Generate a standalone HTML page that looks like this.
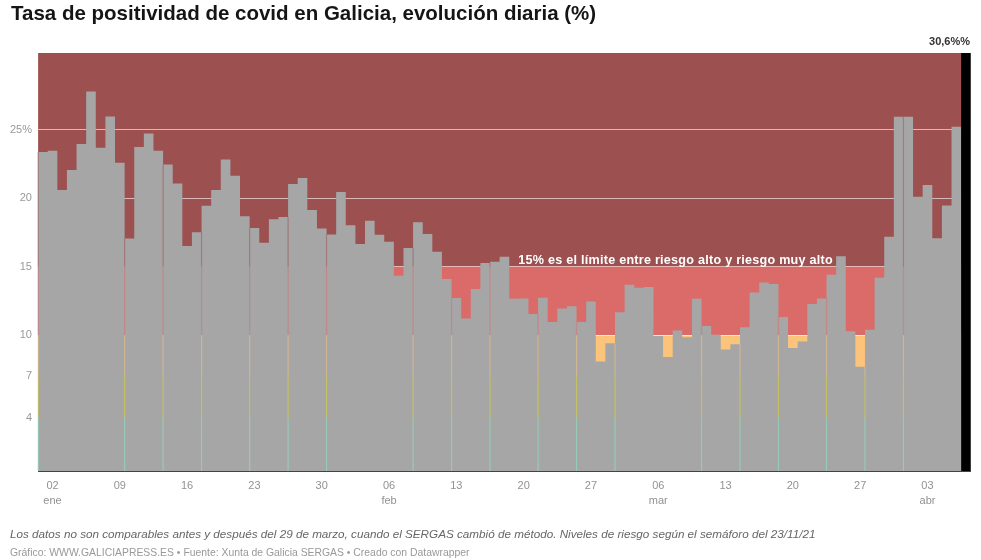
<!DOCTYPE html>
<html><head><meta charset="utf-8">
<style>
html,body{margin:0;padding:0;background:#fff;width:981px;height:560px;overflow:hidden;}
body{position:relative;font-family:"Liberation Sans",sans-serif;}
.wrap{position:absolute;left:0;top:0;width:981px;height:560px;background:#fff;filter:blur(0.55px);}
.title{position:absolute;left:11px;top:0.6px;font-size:20.5px;font-weight:bold;color:#151515;white-space:nowrap;line-height:24px;}
svg{position:absolute;left:0;top:0;}
.yl{font-size:11px;fill:#999;font-family:"Liberation Sans",sans-serif;}
.xl{font-size:11px;fill:#929292;font-family:"Liberation Sans",sans-serif;}
.ann{font-size:12.6px;letter-spacing:0.25px;font-weight:bold;fill:#fff;font-family:"Liberation Sans",sans-serif;}
.lab{font-size:11px;font-weight:bold;fill:#333;font-family:"Liberation Sans",sans-serif;}
.f1{position:absolute;left:10px;top:528px;font-size:11.7px;font-style:italic;color:#666;white-space:nowrap;line-height:12px;}
.f2{position:absolute;left:10px;top:547px;font-size:10.4px;color:#999;white-space:nowrap;line-height:12px;}
</style></head><body>
<div class="wrap">
<div class="title">Tasa de positividad de covid en Galicia, evolución diaria (%)</div>
<svg width="981" height="560" viewBox="0 0 981 560">
<rect x="38.1" y="53.00" width="927.65" height="213.55" fill="#9d5050"/>
<rect x="38.1" y="266.55" width="927.65" height="68.55" fill="#da6b69"/>
<rect x="38.1" y="335.10" width="927.65" height="41.13" fill="#fcc47a"/>
<rect x="38.1" y="376.23" width="927.65" height="41.13" fill="#e4da20"/>
<rect x="38.1" y="417.36" width="927.65" height="53.64" fill="#8aefc8"/>
<rect x="38.1" y="129" width="927.65" height="1" fill="#fff" opacity="0.6"/>
<rect x="38.1" y="198" width="927.65" height="1" fill="#fff" opacity="0.6"/>
<rect x="38.1" y="266" width="927.65" height="1" fill="#fff" opacity="0.42"/>
<rect x="38.1" y="335" width="927.65" height="1" fill="#fff" opacity="0.6"/>
<path d="M38.10,472 L38.10,152.00 L47.72,152.00 L47.72,150.80 L57.33,150.80 L57.33,190.00 L66.94,190.00 L66.94,170.00 L76.56,170.00 L76.56,144.10 L86.17,144.10 L86.18,91.50 L95.79,91.50 L95.79,147.80 L105.40,147.80 L105.41,116.50 L115.02,116.50 L115.02,162.70 L124.64,162.70 L124.63,238.50 L134.25,238.50 L134.25,147.10 L143.87,147.10 L143.87,133.40 L153.48,133.40 L153.48,150.80 L163.09,150.80 L163.09,164.40 L172.71,164.40 L172.71,183.60 L182.33,183.60 L182.32,245.90 L191.94,245.90 L191.94,232.20 L201.56,232.20 L201.56,205.80 L211.17,205.80 L211.17,190.00 L220.78,190.00 L220.78,159.50 L230.40,159.50 L230.40,175.80 L240.02,175.80 L240.01,216.30 L249.63,216.30 L249.63,228.10 L259.25,228.10 L259.25,242.70 L268.86,242.70 L268.86,219.30 L278.48,219.30 L278.48,216.90 L288.09,216.90 L288.09,184.00 L297.71,184.00 L297.71,178.00 L307.32,178.00 L307.32,209.90 L316.94,209.90 L316.94,228.50 L326.55,228.50 L326.55,234.40 L336.17,234.40 L336.17,191.90 L345.78,191.90 L345.78,225.30 L355.40,225.30 L355.40,243.90 L365.01,243.90 L365.01,220.80 L374.63,220.80 L374.63,234.70 L384.24,234.70 L384.24,241.70 L393.86,241.70 L393.86,275.80 L403.47,275.80 L403.47,248.10 L413.09,248.10 L413.09,222.20 L422.70,222.20 L422.70,234.00 L432.32,234.00 L432.32,251.70 L441.93,251.70 L441.93,279.00 L451.55,279.00 L451.55,297.90 L461.16,297.90 L461.16,318.50 L470.78,318.50 L470.78,289.10 L480.39,289.10 L480.39,262.90 L490.01,262.90 L490.01,261.70 L499.62,261.70 L499.62,256.80 L509.24,256.80 L509.24,298.70 L518.85,298.70 L518.85,298.40 L528.47,298.40 L528.47,313.90 L538.08,313.90 L538.08,297.80 L547.70,297.80 L547.70,322.10 L557.31,322.10 L557.31,308.40 L566.93,308.40 L566.93,306.30 L576.54,306.30 L576.54,322.10 L586.16,322.10 L586.16,301.40 L595.77,301.40 L595.77,361.60 L605.38,361.60 L605.38,343.30 L615.00,343.30 L615.00,312.30 L624.62,312.30 L624.62,284.70 L634.23,284.70 L634.23,287.70 L643.85,287.70 L643.85,287.10 L653.46,287.10 L653.46,336.00 L663.08,336.00 L663.08,357.00 L672.69,357.00 L672.69,330.60 L682.31,330.60 L682.31,337.30 L691.92,337.30 L691.92,298.70 L701.54,298.70 L701.54,326.00 L711.15,326.00 L711.15,334.80 L720.77,334.80 L720.76,349.40 L730.38,349.40 L730.38,344.30 L740.00,344.30 L740.00,327.20 L749.61,327.20 L749.61,292.60 L759.23,292.60 L759.23,282.60 L768.84,282.60 L768.84,284.10 L778.46,284.10 L778.46,316.90 L788.07,316.90 L788.07,347.90 L797.69,347.90 L797.69,341.50 L807.30,341.50 L807.30,303.90 L816.92,303.90 L816.92,298.40 L826.53,298.40 L826.53,274.80 L836.15,274.80 L836.15,256.30 L845.76,256.30 L845.76,331.20 L855.38,331.20 L855.38,366.80 L864.99,366.80 L864.99,329.70 L874.61,329.70 L874.61,277.80 L884.22,277.80 L884.22,236.80 L893.84,236.80 L893.84,116.70 L903.45,116.70 L903.45,116.70 L913.07,116.70 L913.07,196.70 L922.68,196.70 L922.68,185.10 L932.30,185.10 L932.30,238.30 L941.91,238.30 L941.91,205.50 L951.53,205.50 L951.53,126.70 L961.14,126.70 L961.14,472 Z" fill="#a6a6a6"/>
<rect x="37.50" y="152.00" width="1.2" height="114.55" fill="#9d5050" opacity="0.5"/>
<rect x="37.50" y="266.55" width="1.2" height="68.55" fill="#da6b69" opacity="0.5"/>
<rect x="37.50" y="335.10" width="1.2" height="41.13" fill="#fcc47a" opacity="0.5"/>
<rect x="37.50" y="376.23" width="1.2" height="41.13" fill="#e4da20" opacity="0.5"/>
<rect x="37.50" y="417.36" width="1.2" height="53.64" fill="#8aefc8" opacity="0.5"/>
<rect x="124.03" y="238.50" width="1.2" height="28.05" fill="#9d5050" opacity="0.5"/>
<rect x="124.03" y="266.55" width="1.2" height="68.55" fill="#da6b69" opacity="0.5"/>
<rect x="124.03" y="335.10" width="1.2" height="41.13" fill="#fcc47a" opacity="0.5"/>
<rect x="124.03" y="376.23" width="1.2" height="41.13" fill="#e4da20" opacity="0.5"/>
<rect x="124.03" y="417.36" width="1.2" height="53.64" fill="#8aefc8" opacity="0.5"/>
<rect x="162.50" y="164.40" width="1.2" height="102.15" fill="#9d5050" opacity="0.5"/>
<rect x="162.50" y="266.55" width="1.2" height="68.55" fill="#da6b69" opacity="0.5"/>
<rect x="162.50" y="335.10" width="1.2" height="41.13" fill="#fcc47a" opacity="0.5"/>
<rect x="162.50" y="376.23" width="1.2" height="41.13" fill="#e4da20" opacity="0.5"/>
<rect x="162.50" y="417.36" width="1.2" height="53.64" fill="#8aefc8" opacity="0.5"/>
<rect x="200.96" y="232.20" width="1.2" height="34.35" fill="#9d5050" opacity="0.5"/>
<rect x="200.96" y="266.55" width="1.2" height="68.55" fill="#da6b69" opacity="0.5"/>
<rect x="200.96" y="335.10" width="1.2" height="41.13" fill="#fcc47a" opacity="0.5"/>
<rect x="200.96" y="376.23" width="1.2" height="41.13" fill="#e4da20" opacity="0.5"/>
<rect x="200.96" y="417.36" width="1.2" height="53.64" fill="#8aefc8" opacity="0.5"/>
<rect x="249.03" y="228.10" width="1.2" height="38.45" fill="#9d5050" opacity="0.5"/>
<rect x="249.03" y="266.55" width="1.2" height="68.55" fill="#da6b69" opacity="0.5"/>
<rect x="249.03" y="335.10" width="1.2" height="41.13" fill="#fcc47a" opacity="0.5"/>
<rect x="249.03" y="376.23" width="1.2" height="41.13" fill="#e4da20" opacity="0.5"/>
<rect x="249.03" y="417.36" width="1.2" height="53.64" fill="#8aefc8" opacity="0.5"/>
<rect x="287.49" y="216.90" width="1.2" height="49.65" fill="#9d5050" opacity="0.5"/>
<rect x="287.49" y="266.55" width="1.2" height="68.55" fill="#da6b69" opacity="0.5"/>
<rect x="287.49" y="335.10" width="1.2" height="41.13" fill="#fcc47a" opacity="0.5"/>
<rect x="287.49" y="376.23" width="1.2" height="41.13" fill="#e4da20" opacity="0.5"/>
<rect x="287.49" y="417.36" width="1.2" height="53.64" fill="#8aefc8" opacity="0.5"/>
<rect x="325.95" y="234.40" width="1.2" height="32.15" fill="#9d5050" opacity="0.5"/>
<rect x="325.95" y="266.55" width="1.2" height="68.55" fill="#da6b69" opacity="0.5"/>
<rect x="325.95" y="335.10" width="1.2" height="41.13" fill="#fcc47a" opacity="0.5"/>
<rect x="325.95" y="376.23" width="1.2" height="41.13" fill="#e4da20" opacity="0.5"/>
<rect x="325.95" y="417.36" width="1.2" height="53.64" fill="#8aefc8" opacity="0.5"/>
<rect x="412.49" y="248.10" width="1.2" height="18.45" fill="#9d5050" opacity="0.5"/>
<rect x="412.49" y="266.55" width="1.2" height="68.55" fill="#da6b69" opacity="0.5"/>
<rect x="412.49" y="335.10" width="1.2" height="41.13" fill="#fcc47a" opacity="0.5"/>
<rect x="412.49" y="376.23" width="1.2" height="41.13" fill="#e4da20" opacity="0.5"/>
<rect x="412.49" y="417.36" width="1.2" height="53.64" fill="#8aefc8" opacity="0.5"/>
<rect x="450.94" y="297.90" width="1.2" height="37.20" fill="#da6b69" opacity="0.5"/>
<rect x="450.94" y="335.10" width="1.2" height="41.13" fill="#fcc47a" opacity="0.5"/>
<rect x="450.94" y="376.23" width="1.2" height="41.13" fill="#e4da20" opacity="0.5"/>
<rect x="450.94" y="417.36" width="1.2" height="53.64" fill="#8aefc8" opacity="0.5"/>
<rect x="489.41" y="262.90" width="1.2" height="3.65" fill="#9d5050" opacity="0.5"/>
<rect x="489.41" y="266.55" width="1.2" height="68.55" fill="#da6b69" opacity="0.5"/>
<rect x="489.41" y="335.10" width="1.2" height="41.13" fill="#fcc47a" opacity="0.5"/>
<rect x="489.41" y="376.23" width="1.2" height="41.13" fill="#e4da20" opacity="0.5"/>
<rect x="489.41" y="417.36" width="1.2" height="53.64" fill="#8aefc8" opacity="0.5"/>
<rect x="537.48" y="313.90" width="1.2" height="21.20" fill="#da6b69" opacity="0.5"/>
<rect x="537.48" y="335.10" width="1.2" height="41.13" fill="#fcc47a" opacity="0.5"/>
<rect x="537.48" y="376.23" width="1.2" height="41.13" fill="#e4da20" opacity="0.5"/>
<rect x="537.48" y="417.36" width="1.2" height="53.64" fill="#8aefc8" opacity="0.5"/>
<rect x="575.94" y="322.10" width="1.2" height="13.00" fill="#da6b69" opacity="0.5"/>
<rect x="575.94" y="335.10" width="1.2" height="41.13" fill="#fcc47a" opacity="0.5"/>
<rect x="575.94" y="376.23" width="1.2" height="41.13" fill="#e4da20" opacity="0.5"/>
<rect x="575.94" y="417.36" width="1.2" height="53.64" fill="#8aefc8" opacity="0.5"/>
<rect x="614.40" y="343.30" width="1.2" height="32.93" fill="#fcc47a" opacity="0.5"/>
<rect x="614.40" y="376.23" width="1.2" height="41.13" fill="#e4da20" opacity="0.5"/>
<rect x="614.40" y="417.36" width="1.2" height="53.64" fill="#8aefc8" opacity="0.5"/>
<rect x="700.94" y="326.00" width="1.2" height="9.10" fill="#da6b69" opacity="0.5"/>
<rect x="700.94" y="335.10" width="1.2" height="41.13" fill="#fcc47a" opacity="0.5"/>
<rect x="700.94" y="376.23" width="1.2" height="41.13" fill="#e4da20" opacity="0.5"/>
<rect x="700.94" y="417.36" width="1.2" height="53.64" fill="#8aefc8" opacity="0.5"/>
<rect x="739.39" y="344.30" width="1.2" height="31.93" fill="#fcc47a" opacity="0.5"/>
<rect x="739.39" y="376.23" width="1.2" height="41.13" fill="#e4da20" opacity="0.5"/>
<rect x="739.39" y="417.36" width="1.2" height="53.64" fill="#8aefc8" opacity="0.5"/>
<rect x="777.86" y="316.90" width="1.2" height="18.20" fill="#da6b69" opacity="0.5"/>
<rect x="777.86" y="335.10" width="1.2" height="41.13" fill="#fcc47a" opacity="0.5"/>
<rect x="777.86" y="376.23" width="1.2" height="41.13" fill="#e4da20" opacity="0.5"/>
<rect x="777.86" y="417.36" width="1.2" height="53.64" fill="#8aefc8" opacity="0.5"/>
<rect x="825.93" y="298.40" width="1.2" height="36.70" fill="#da6b69" opacity="0.5"/>
<rect x="825.93" y="335.10" width="1.2" height="41.13" fill="#fcc47a" opacity="0.5"/>
<rect x="825.93" y="376.23" width="1.2" height="41.13" fill="#e4da20" opacity="0.5"/>
<rect x="825.93" y="417.36" width="1.2" height="53.64" fill="#8aefc8" opacity="0.5"/>
<rect x="864.39" y="366.80" width="1.2" height="9.43" fill="#fcc47a" opacity="0.5"/>
<rect x="864.39" y="376.23" width="1.2" height="41.13" fill="#e4da20" opacity="0.5"/>
<rect x="864.39" y="417.36" width="1.2" height="53.64" fill="#8aefc8" opacity="0.5"/>
<rect x="902.85" y="116.70" width="1.2" height="149.85" fill="#9d5050" opacity="0.5"/>
<rect x="902.85" y="266.55" width="1.2" height="68.55" fill="#da6b69" opacity="0.5"/>
<rect x="902.85" y="335.10" width="1.2" height="41.13" fill="#fcc47a" opacity="0.5"/>
<rect x="902.85" y="376.23" width="1.2" height="41.13" fill="#e4da20" opacity="0.5"/>
<rect x="902.85" y="417.36" width="1.2" height="53.64" fill="#8aefc8" opacity="0.5"/>
<rect x="961.14" y="53.0" width="9.615" height="419.00" fill="#000"/>
<rect x="38.1" y="471" width="932.65" height="1" fill="#444"/>
<text x="32" y="132.65" text-anchor="end" class="yl">25%</text>
<text x="32" y="201.20" text-anchor="end" class="yl">20</text>
<text x="32" y="269.75" text-anchor="end" class="yl">15</text>
<text x="32" y="338.30" text-anchor="end" class="yl">10</text>
<text x="32" y="379.43" text-anchor="end" class="yl">7</text>
<text x="32" y="420.56" text-anchor="end" class="yl">4</text>
<text x="52.52" y="489" text-anchor="middle" class="xl">02</text>
<text x="52.52" y="504" text-anchor="middle" class="xl">ene</text>
<text x="119.83" y="489" text-anchor="middle" class="xl">09</text>
<text x="187.13" y="489" text-anchor="middle" class="xl">16</text>
<text x="254.44" y="489" text-anchor="middle" class="xl">23</text>
<text x="321.74" y="489" text-anchor="middle" class="xl">30</text>
<text x="389.05" y="489" text-anchor="middle" class="xl">06</text>
<text x="389.05" y="504" text-anchor="middle" class="xl">feb</text>
<text x="456.35" y="489" text-anchor="middle" class="xl">13</text>
<text x="523.66" y="489" text-anchor="middle" class="xl">20</text>
<text x="590.96" y="489" text-anchor="middle" class="xl">27</text>
<text x="658.27" y="489" text-anchor="middle" class="xl">06</text>
<text x="658.27" y="504" text-anchor="middle" class="xl">mar</text>
<text x="725.57" y="489" text-anchor="middle" class="xl">13</text>
<text x="792.88" y="489" text-anchor="middle" class="xl">20</text>
<text x="860.18" y="489" text-anchor="middle" class="xl">27</text>
<text x="927.49" y="489" text-anchor="middle" class="xl">03</text>
<text x="927.49" y="504" text-anchor="middle" class="xl">abr</text>
<text x="518.3" y="263.8" class="ann">15% es el límite entre riesgo alto y riesgo muy alto</text>
<text x="970" y="45.3" text-anchor="end" class="lab">30,6%%</text>
</svg>
<div class="f1">Los datos no son comparables antes y después del 29 de marzo, cuando el SERGAS cambió de método. Niveles de riesgo según el semáforo del 23/11/21</div>
<div class="f2">Gráfico: WWW.GALICIAPRESS.ES • Fuente: Xunta de Galicia SERGAS • Creado con Datawrapper</div>
</div>
</body></html>
